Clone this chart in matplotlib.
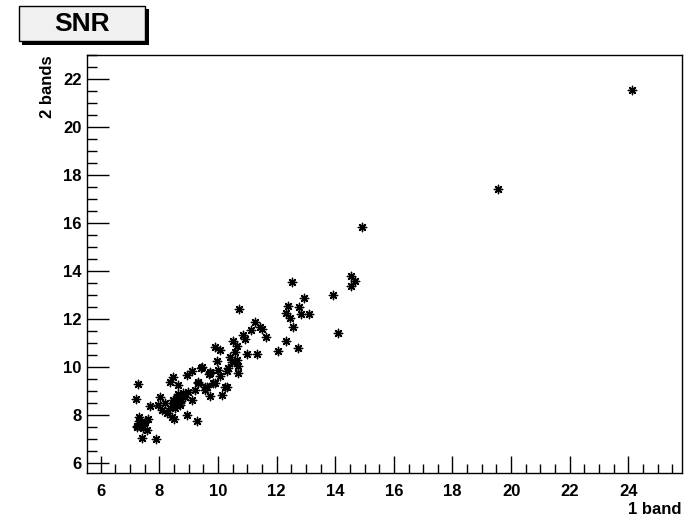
import matplotlib.pyplot as plt
from matplotlib.patches import Rectangle
from matplotlib.ticker import MultipleLocator

plt.rc('font', family=['Liberation Sans', 'DejaVu Sans'], weight='bold')

# SNR with one band vs SNR with two bands
snr_1band = [24.11, 19.56, 14.90,
             12.51, 14.53, 14.67, 14.53, 13.91, 12.93, 12.40, 12.76, 12.31,
             12.83, 13.11, 12.45, 12.55, 14.10, 12.32, 12.06, 12.74,
             10.72, 11.26, 11.13, 11.44, 11.49, 11.63, 10.86, 10.92, 10.52,
             9.90, 10.07, 10.64, 10.58, 10.98, 11.32, 10.41, 10.47, 10.64,
             9.95, 10.69, 10.35, 9.42, 9.73, 10.01, 10.07, 10.30, 10.69,
             9.33, 9.61, 9.90, 10.24, 9.56, 9.73, 10.13, 9.22, 9.70, 10.30,
             7.28, 7.20, 7.68, 8.02, 8.48, 8.36, 8.65, 8.93, 9.10, 9.44,
             9.73, 9.33, 9.56, 9.84, 8.99, 9.10, 8.87, 8.59, 8.48, 8.70,
             8.53, 7.96, 8.08, 8.25, 8.42, 8.51, 8.93, 9.27, 7.31, 7.23,
             7.40, 7.62, 7.57, 7.42, 7.89, 7.30, 7.35, 7.25, 7.45, 7.50,
             8.60, 8.65, 8.55, 8.75, 8.70, 8.62, 8.45, 8.80, 8.20, 8.35]
snr_2bands = [21.53, 17.43, 15.81,
              13.52, 13.77, 13.57, 13.36, 13.00, 12.86, 12.53, 12.50, 12.25,
              12.20, 12.20, 12.03, 11.64, 11.42, 11.06, 10.67, 10.79,
              12.43, 11.88, 11.53, 11.64, 11.56, 11.25, 11.32, 11.14, 11.08,
              10.81, 10.70, 10.86, 10.63, 10.53, 10.53, 10.42, 10.21, 10.28,
              10.24, 10.03, 9.93, 9.97, 9.79, 9.86, 9.61, 9.83, 9.75,
              9.38, 9.17, 9.31, 9.14, 9.03, 8.78, 8.82, 9.03, 9.72, 9.17,
              9.27, 8.64, 8.36, 8.73, 9.58, 9.38, 9.24, 9.65, 9.83, 10.00,
              9.75, 9.31, 9.17, 9.33, 8.96, 8.61, 8.75, 8.61, 8.48, 8.40,
              8.27, 8.40, 8.20, 8.08, 7.89, 7.81, 7.99, 7.75, 7.75, 7.50,
              7.57, 7.81, 7.36, 7.04, 6.99, 7.90, 7.65, 7.55, 7.45, 7.70,
              8.70, 8.85, 8.55, 8.65, 8.50, 8.75, 8.60, 8.90, 8.50, 8.30]

fig = plt.figure(figsize=(6.89, 5.16), dpi=100)
ax = fig.add_axes([0.1267, 0.0828, 0.8627, 0.8106])

ax.scatter(snr_1band, snr_2bands, marker=(8, 2, 0), s=36, color='black', linewidths=1.0)

ax.set_xlim(5.54, 25.82)
ax.set_ylim(5.56, 23.0)
ax.xaxis.set_major_locator(MultipleLocator(2))
ax.xaxis.set_minor_locator(MultipleLocator(0.5))
ax.yaxis.set_major_locator(MultipleLocator(2))
ax.yaxis.set_minor_locator(MultipleLocator(0.5))
ax.tick_params(which='both', direction='in', top=False, right=False,
               labelsize=12, width=1, color='black')
ax.tick_params(axis='x', which='major', length=12.5, pad=8)
ax.tick_params(axis='x', which='minor', length=6.5)
ax.tick_params(axis='y', which='major', length=15.5, pad=4)
ax.tick_params(axis='y', which='minor', length=7.5)
for sp in ax.spines.values():
    sp.set_linewidth(1)

ax.set_xlabel('1 band', fontsize=12, fontweight='bold', loc='right', labelpad=2)
ax.set_ylabel('2 bands', fontsize=12, fontweight='bold', loc='top', labelpad=6)

# title box in ROOT style
sx, sy = 1 / 689, 1 / 516
fig.patches.append(Rectangle((22 * sx, 1 - 45 * sy), 127 * sx, 36 * sy,
                             transform=fig.transFigure, facecolor='black',
                             edgecolor='none'))
fig.patches.append(Rectangle((19 * sx, 1 - 41 * sy), 126 * sx, 35 * sy,
                             transform=fig.transFigure, facecolor='#f0f0f0',
                             edgecolor='black', linewidth=1))
fig.text(82 * sx, 1 - 24 * sy, 'SNR', fontsize=19, fontweight='bold',
         ha='center', va='center')

plt.savefig('out.png', dpi=100)
